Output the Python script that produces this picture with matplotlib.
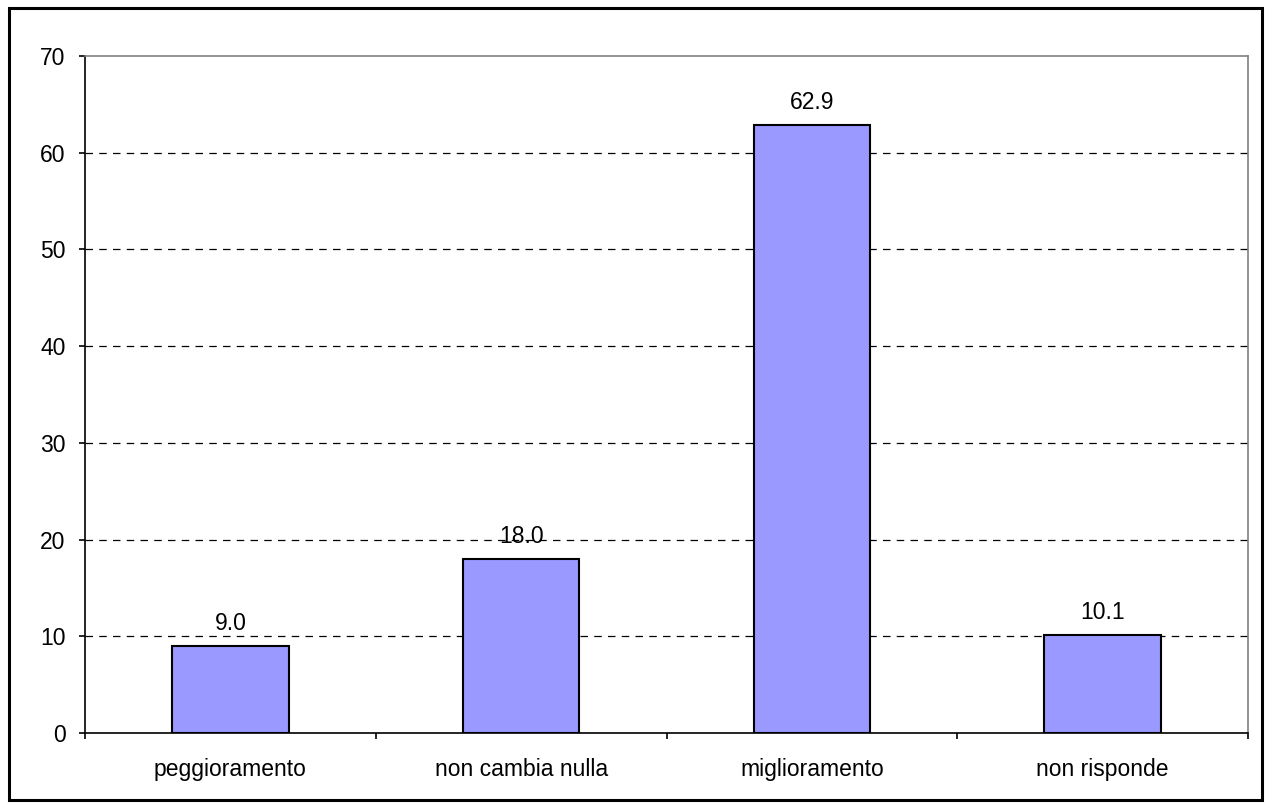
import matplotlib
matplotlib.use("Agg")
import matplotlib.pyplot as plt
from matplotlib.patches import Rectangle

categories = ["peggioramento", "non cambia nulla", "miglioramento", "non risponde"]
values = [9.0, 18.0, 62.9, 10.1]
yticks = [0, 10, 20, 30, 40, 50, 60, 70]

plt.rcParams["font.family"] = ["Liberation Sans", "DejaVu Sans"]
FS = 16.5

W, H = 1269, 808
fig = plt.figure(figsize=(W / 100, H / 100), dpi=100)

# outer frame of the chart area
fig.patches.append(Rectangle((9 / W, 8 / H), (1262 - 9) / W, (800 - 8) / H,
                             transform=fig.transFigure, fill=False,
                             edgecolor="black", linewidth=2.2))

left, right, top, bottom = 85, 1248, 56, 733
ax = fig.add_axes([left / W, 1 - bottom / H, (right - left) / W, (bottom - top) / H])

x = list(range(len(categories)))
ax.bar(x, values, width=0.4, color="#9999FF", edgecolor="black", linewidth=1.5, zorder=3)

for xi, v in zip(x, values):
    ax.annotate(f"{v:.1f}", (xi, v), xytext=(0, 8), textcoords="offset points",
                ha="center", va="bottom", fontsize=FS, zorder=4)

ax.set_xlim(-0.5, len(categories) - 0.5)
ax.set_ylim(0, 70)
ax.set_yticks(yticks)
ax.set_yticklabels([str(t) for t in yticks], fontsize=FS)

# category labels between boundary ticks
ax.set_xticks([i - 0.5 for i in range(len(categories) + 1)])
ax.set_xticklabels([])
ax.set_xticks(x, minor=True)
ax.set_xticklabels(categories, minor=True, fontsize=FS)
ax.tick_params(axis="x", which="minor", length=0, pad=18)
ax.tick_params(axis="x", which="major", length=4, width=1.2, direction="out")
ax.tick_params(axis="y", length=4, width=1.2, direction="out", pad=10)

for t in yticks[1:-1]:
    ax.axhline(t, color="black", linewidth=0.9, linestyle=(0, (6, 5)), zorder=1)

ax.spines["left"].set_color("black")
ax.spines["left"].set_linewidth(1.2)
ax.spines["bottom"].set_color("black")
ax.spines["bottom"].set_linewidth(1.2)
ax.spines["bottom"].set_zorder(5)
ax.spines["top"].set_color("#808080")
ax.spines["top"].set_linewidth(1.2)
ax.spines["right"].set_color("#808080")
ax.spines["right"].set_linewidth(1.2)

fig.savefig("out.png", dpi=100, facecolor="white")
